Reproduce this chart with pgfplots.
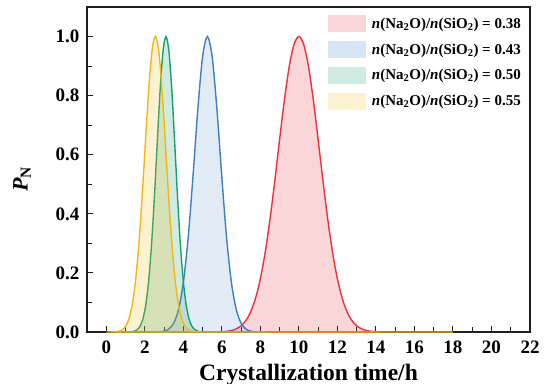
\documentclass[border=0pt]{standalone}
\usepackage{fontspec}
\setmainfont{Liberation Serif}
\usepackage{pgfplots}
\pgfplotsset{compat=1.18}
\definecolor{cred}{RGB}{235,50,60}
\definecolor{cblue}{RGB}{62,126,194}
\definecolor{cgreen}{RGB}{22,160,112}
\definecolor{cyellow}{RGB}{242,184,18}
\definecolor{frame}{RGB}{30,30,30}
\newcommand{\legtxt}[1]{\textbf{\textit{n}(Na\textsubscript{2}O)/\textit{n}(SiO\textsubscript{2}) = #1}}
\begin{document}
\begin{tikzpicture}
\useasboundingbox (-87bp,-52bp) rectangle (462bp,332bp);
\begin{axis}[
  name=ax,
  at={(0,0)}, anchor=south west, scale only axis,
  width=443bp, height=325bp,
  xmin=-1, xmax=22, ymin=0, ymax=1.1,
  clip=false,
  xtick={0,2,4,6,8,10,12,14,16,18,20,22},
  ytick={0,0.2,0.4,0.6,0.8,1.0},
  minor x tick num=1, minor y tick num=1,
  tick pos=left, tick align=inside,
  major tick length=6bp, minor tick length=5bp,
  axis line style={line width=1.3bp, frame},
  every tick/.style={line width=1bp, frame},
  /pgf/number format/assume math mode=true,
  ticklabel style={font=\fontsize{19bp}{21bp}\selectfont\bfseries},
  yticklabel style={xshift=-4bp, /pgf/number format/.cd, fixed, fixed zerofill, precision=1},
  xticklabel style={yshift=-5bp},
  xlabel={\textbf{Crystallization time/h}},
  xlabel style={at={(rel axis cs:0.5,0)}, anchor=base, yshift=-48bp, font=\fontsize{23.5bp}{25bp}\selectfont},
  ylabel={\textbf{\textit{P}\textsubscript{N}}},
  ylabel style={at={(rel axis cs:0,0.47)}, anchor=center, xshift=0pt, yshift=65bp, font=\fontsize{22bp}{24bp}\selectfont},
  every axis plot/.append style={legend image code/.code={\fill[#1,draw=none,fill opacity=0.2] (0bp,-8.5bp) rectangle (38bp,8.5bp);}},
  legend style={at={(rel axis cs:0.544,0.974)}, anchor=north west, draw=none, fill=none,
    inner sep=0pt, outer sep=0pt, row sep=8.7bp, column sep=6bp,
    nodes={inner sep=0pt}, font=\fontsize{15bp}{17bp}\selectfont},
  legend cell align=left,
]
\addplot[draw=cred, line width=1.4bp, fill=cred, fill opacity=0.2, smooth] table {
x y
6.0 0.0011
6.25 0.0024
6.5 0.0052
6.75 0.0108
7.0 0.0211
7.25 0.0391
7.5 0.0686
7.75 0.1142
8.0 0.1800
8.25 0.2691
8.5 0.3812
8.75 0.5118
9.0 0.6514
9.25 0.7858
9.5 0.8984
9.75 0.9736
10.0 1.0
10.25 0.9736
10.5 0.8984
10.75 0.7858
11.0 0.6514
11.25 0.5118
11.5 0.3812
11.75 0.2691
12.0 0.1800
12.25 0.1142
12.5 0.0686
12.75 0.0391
13.0 0.0211
13.25 0.0108
13.5 0.0052
13.75 0.0024
14.0 0.0011
14.2 0
} \closedcycle;
\addlegendentry{\legtxt{0.38}}
\addplot[draw=cblue, line width=1.4bp, fill=cblue, fill opacity=0.15, smooth] table {
x y
2.25 0.0000
2.5 0.0002
2.75 0.0008
3.0 0.0030
3.25 0.0101
3.5 0.0297
3.75 0.0756
4.0 0.1664
4.25 0.3173
4.5 0.5243
4.75 0.7506
5.0 0.9308
5.25 1.0
5.5 0.9308
5.75 0.7506
6.0 0.5243
6.25 0.3173
6.5 0.1664
6.75 0.0756
7.0 0.0297
7.25 0.0101
7.5 0.0030
7.75 0.0008
8.0 0.0002
8.25 0.0000
8.5 0
} \closedcycle;
\addlegendentry{\legtxt{0.43}}
\addplot[draw=cgreen, line width=1.4bp, fill=cgreen, fill opacity=0.2, smooth] table {
x y
0.5 0
1.0 0.0001
1.15 0.0003
1.3 0.0009
1.45 0.0027
1.6 0.0076
1.75 0.0192
1.9 0.0439
2.05 0.0914
2.2 0.1724
2.35 0.2950
2.5 0.4578
2.65 0.6444
2.8 0.8226
2.95 0.9523
3.1 1.0
3.25 0.9523
3.4 0.8226
3.55 0.6444
3.7 0.4578
3.85 0.2950
4.0 0.1724
4.15 0.0914
4.3 0.0439
4.45 0.0192
4.6 0.0076
4.75 0.0027
4.9 0.0009
5.05 0.0003
5.2 0.0001
6.0 0
} \closedcycle;
\addlegendentry{\legtxt{0.50}}
\addplot[draw=cyellow, line width=1.4bp, fill=cyellow, fill opacity=0.2, smooth] table {
x y
0 0
0.15 0.0001
0.3 0.0002
0.45 0.0007
0.6 0.0019
0.75 0.0047
0.9 0.0111
1.05 0.0243
1.2 0.0492
1.35 0.0925
1.5 0.1616
1.65 0.2622
1.8 0.3946
1.95 0.5516
2.1 0.7155
2.25 0.8618
2.4 0.9635
2.55 1.0
2.7 0.9635
2.85 0.8618
3.0 0.7155
3.15 0.5516
3.3 0.3946
3.45 0.2622
3.6 0.1616
3.75 0.0925
3.9 0.0492
4.05 0.0243
4.2 0.0111
4.35 0.0047
4.5 0.0019
4.65 0.0007
4.8 0.0002
4.95 0.0001
5.5 0
18 0
} \closedcycle;
\addlegendentry{\legtxt{0.55}}
\end{axis}
\draw[line width=1.3bp, frame, line cap=rect] (ax.north west) -- (ax.north east) -- (ax.south east);
\end{tikzpicture}
\end{document}
